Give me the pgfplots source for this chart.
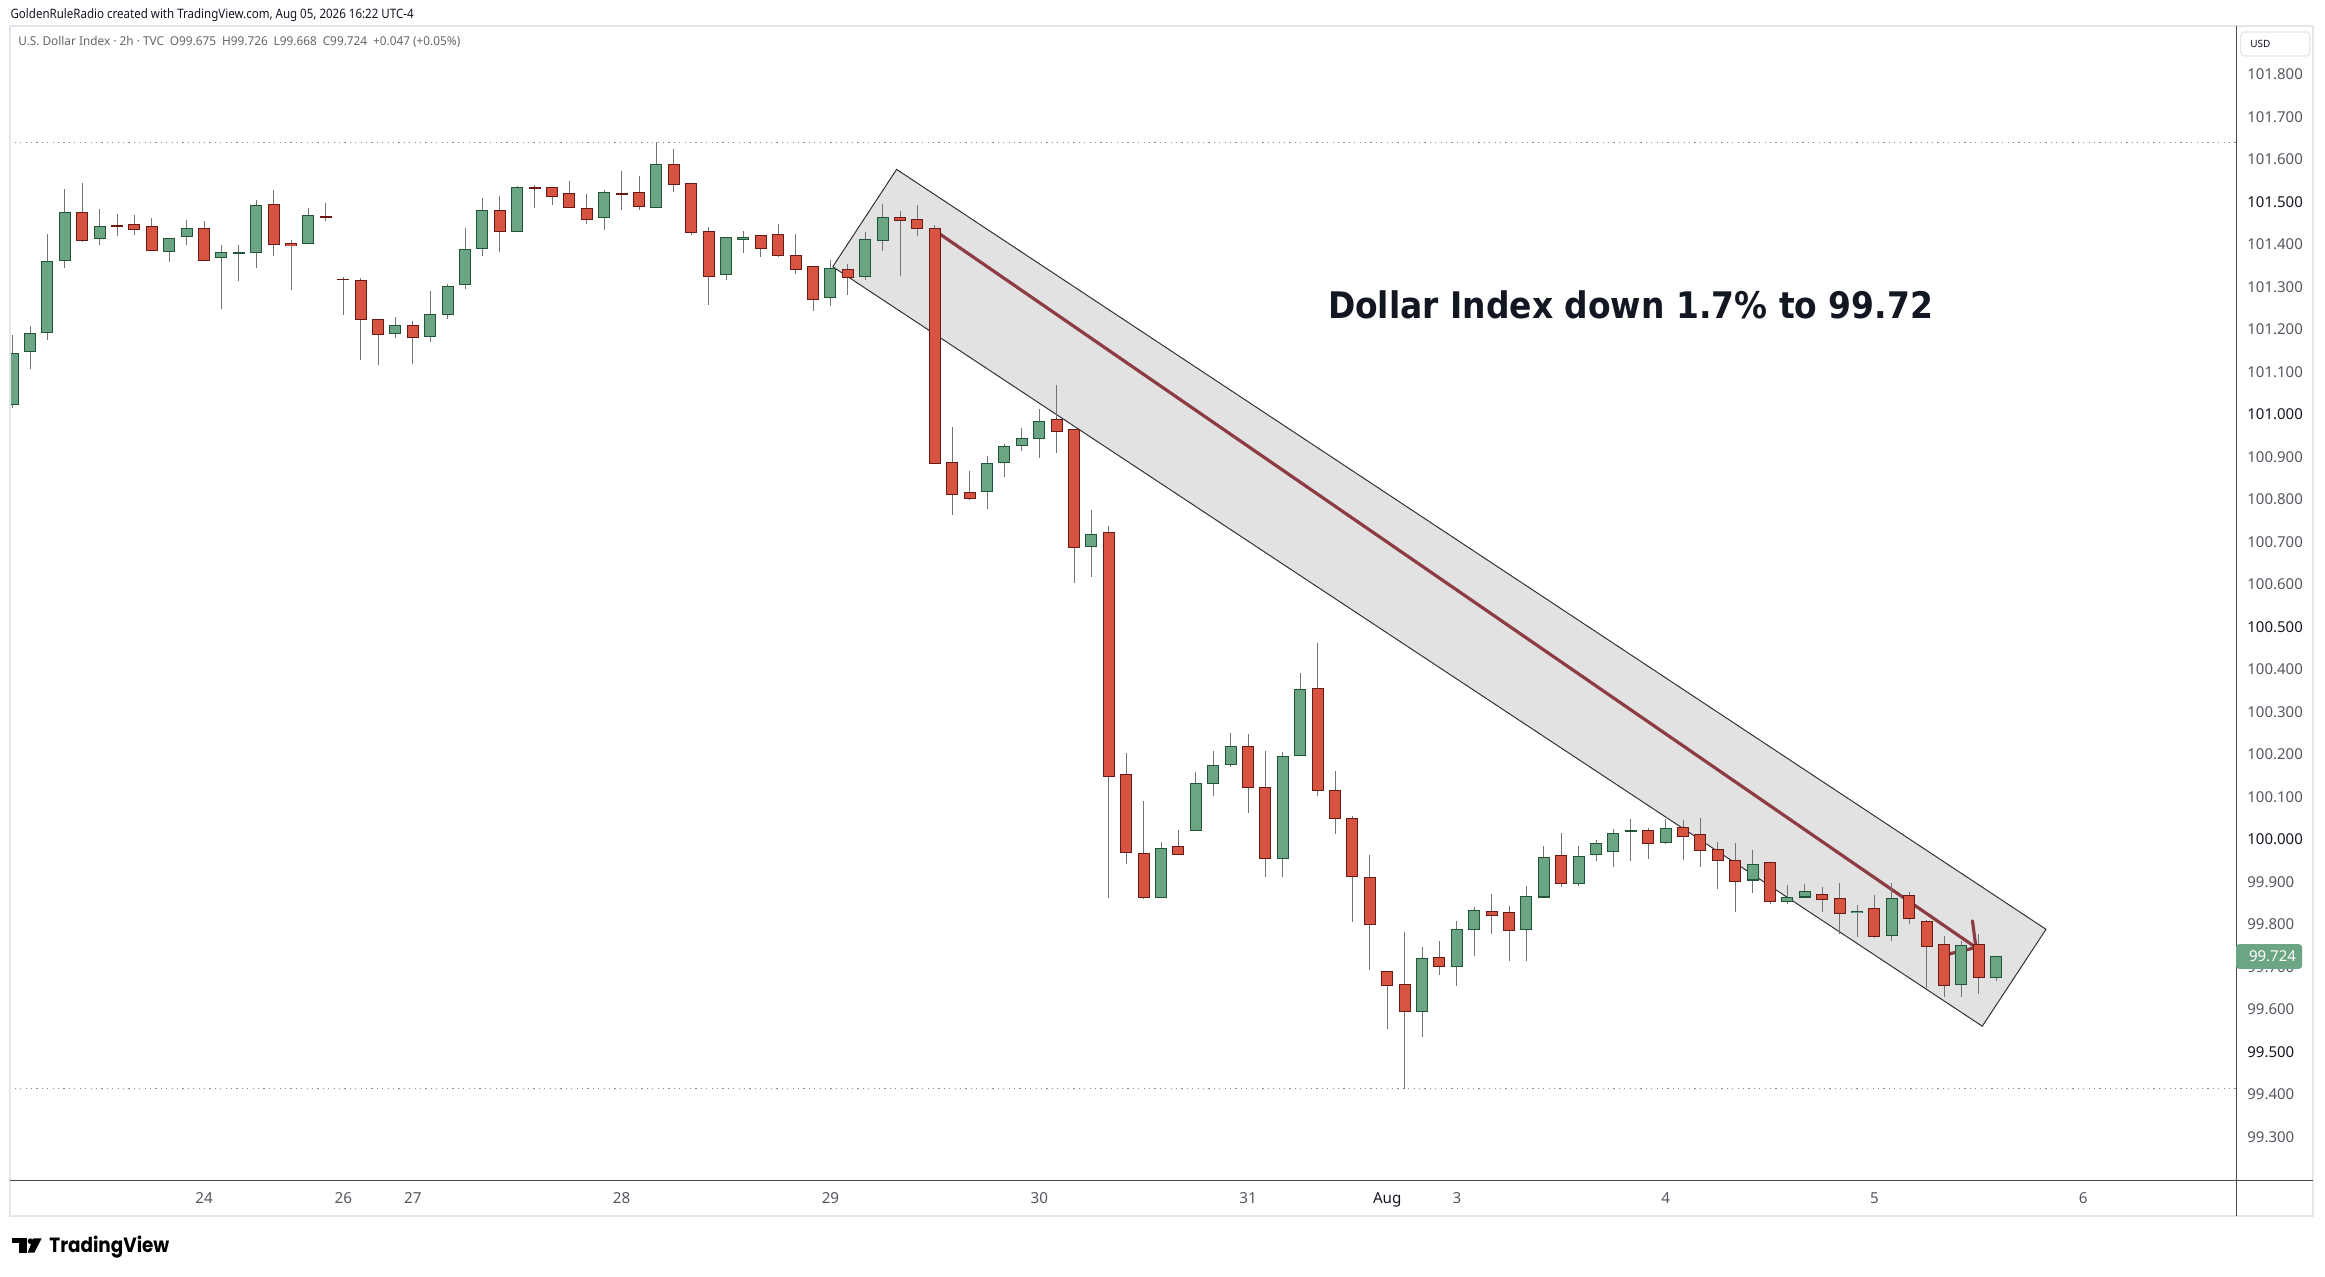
\documentclass[border=0pt]{standalone}
\usepackage{pgfplots}
\pgfplotsset{compat=1.18}
\usepackage{pgfplotstable}
\usepackage{graphicx}
\usepackage{fontspec}
\usetikzlibrary{arrows.meta}
\setmainfont{Noto Sans}
\newfontfamily\dejavu{DejaVu Sans}
\newfontfamily\popfont{Poppins}

\definecolor{upfill}{HTML}{6BA583}
\definecolor{upline}{HTML}{225437}
\definecolor{dnfill}{HTML}{D75442}
\definecolor{dnline}{HTML}{6B1914}
\definecolor{wick}{HTML}{737375}
\definecolor{chan}{HTML}{E2E2E2}
\definecolor{arrowc}{RGB}{140,60,66}
\definecolor{panel}{HTML}{E4E6EC}
\definecolor{axc}{HTML}{4A4A4A}
\definecolor{lbl}{HTML}{555860}
\definecolor{dark}{HTML}{131722}

% green (up) candles: bar index, open, high, low, close
\pgfplotstableread{
i o h l c
0 101.025 101.186 101.015 101.143
1 101.148 101.207 101.107 101.190
2 101.192 101.426 101.177 101.360
3 101.362 101.532 101.345 101.475
5 101.414 101.483 101.399 101.442
9 101.383 101.414 101.359 101.414
10 101.418 101.459 101.399 101.437
12 101.369 101.398 101.248 101.381
13 101.380 101.398 101.314 101.381
14 101.381 101.505 101.345 101.491
17 101.402 101.487 101.402 101.468
22 101.190 101.229 101.180 101.209
24 101.183 101.290 101.170 101.235
25 101.235 101.308 101.225 101.301
26 101.305 101.438 101.295 101.388
27 101.390 101.509 101.373 101.480
29 101.432 101.538 101.430 101.534
34 101.463 101.529 101.434 101.522
37 101.489 101.640 101.487 101.590
41 101.329 101.418 101.316 101.416
42 101.413 101.431 101.380 101.418
47 101.275 101.363 101.255 101.343
49 101.324 101.429 101.316 101.411
50 101.409 101.494 101.385 101.463
56 100.818 100.901 100.778 100.884
57 100.887 100.930 100.853 100.924
58 100.927 100.967 100.914 100.945
59 100.943 101.014 100.898 100.985
62 100.689 100.774 100.618 100.717
66 99.863 99.994 99.863 99.979
68 100.021 100.158 100.021 100.132
69 100.132 100.208 100.103 100.174
70 100.176 100.252 100.172 100.219
73 99.955 100.205 99.911 100.195
74 100.198 100.391 100.198 100.353
81 99.595 99.747 99.536 99.720
83 99.701 99.810 99.655 99.788
84 99.788 99.842 99.726 99.832
87 99.788 99.891 99.714 99.865
88 99.865 99.983 99.865 99.957
90 99.896 99.985 99.891 99.959
91 99.964 99.997 99.948 99.990
92 99.971 100.025 99.934 100.014
93 100.020 100.049 99.950 100.021
95 99.992 100.047 99.990 100.025
100 99.905 99.974 99.875 99.941
102 99.854 99.894 99.849 99.863
103 99.865 99.896 99.865 99.877
106 99.828 99.847 99.771 99.832
108 99.774 99.896 99.760 99.861
112 99.658 99.762 99.630 99.750
114 99.675 99.726 99.668 99.724
}\up

% red (down) candles
\pgfplotstableread{
i o h l c
4 101.475 101.544 101.406 101.409
6 101.445 101.471 101.420 101.443
7 101.447 101.469 101.422 101.435
8 101.442 101.461 101.384 101.385
11 101.440 101.454 101.363 101.364
15 101.494 101.529 101.373 101.400
16 101.402 101.411 101.293 101.397
18 101.466 101.498 101.456 101.465
19 101.318 101.324 101.235 101.317
20 101.315 101.323 101.130 101.223
21 101.225 101.225 101.116 101.188
23 101.209 101.221 101.119 101.181
28 101.480 101.513 101.382 101.430
30 101.533 101.541 101.486 101.531
31 101.534 101.534 101.493 101.512
32 101.520 101.550 101.487 101.487
33 101.484 101.518 101.448 101.458
35 101.520 101.572 101.481 101.519
36 101.522 101.560 101.481 101.489
38 101.590 101.624 101.523 101.541
39 101.543 101.543 101.422 101.428
40 101.430 101.442 101.258 101.324
43 101.421 101.421 101.370 101.392
44 101.423 101.447 101.370 101.374
45 101.376 101.424 101.330 101.343
46 101.348 101.348 101.243 101.270
48 101.343 101.356 101.283 101.324
51 101.463 101.480 101.326 101.456
52 101.458 101.494 101.420 101.437
53 101.437 101.447 100.884 100.884
54 100.887 100.972 100.764 100.811
55 100.816 100.866 100.798 100.802
60 100.988 101.070 100.909 100.960
61 100.964 100.964 100.603 100.687
63 100.722 100.739 99.863 100.149
64 100.153 100.205 99.943 99.969
65 99.967 100.090 99.859 99.863
67 99.983 100.022 99.965 99.965
71 100.219 100.248 100.063 100.122
72 100.122 100.208 99.911 99.955
75 100.355 100.462 100.103 100.115
76 100.115 100.161 100.013 100.049
77 100.049 100.056 99.806 99.913
78 99.911 99.965 99.693 99.800
79 99.689 99.689 99.554 99.656
80 99.659 99.782 99.414 99.595
82 99.722 99.761 99.681 99.701
85 99.832 99.871 99.777 99.823
86 99.828 99.844 99.714 99.785
89 99.962 100.016 99.889 99.896
94 100.021 100.028 99.955 99.990
96 100.030 100.044 99.950 100.009
97 100.011 100.051 99.934 99.974
98 99.976 99.995 99.884 99.952
99 99.952 99.992 99.830 99.901
101 99.945 99.945 99.849 99.854
104 99.870 99.889 99.830 99.858
105 99.861 99.898 99.778 99.825
107 99.837 99.870 99.769 99.771
109 99.868 99.877 99.802 99.814
110 99.809 99.809 99.651 99.748
111 99.752 99.774 99.630 99.656
113 99.752 99.776 99.635 99.675
}\down

\pgfplotsset{
  wickstyle/.style={draw=none, mark=none, forget plot,
    error bars/.cd, y dir=both, y explicit, error mark=none,
    error bar style={draw=wick, line width=0.5pt}},
  bodystyle/.style 2 args={draw=none, mark=none, forget plot,
    error bars/.cd, y dir=both, y explicit, error mark=none,
    error bar style={draw=#1, line width=#2}},
}

\begin{document}
\begin{tikzpicture}
\useasboundingbox (0,0) rectangle (1162.5pt,638pt);
\fill[white] (0,0) rectangle (1162.5pt,638pt);
\begin{axis}[
  at={(4.75pt,48pt)}, anchor=south west, scale only axis,
  width=1113.25pt, height=576.5pt,
  xmin=-0.184, xmax=127.78, ymin=99.1981, ymax=101.9111,
  axis line style={draw=none},
  tick style={draw=none}, major tick length=0pt,
  xtick={11,19,23,35,47,59,71,79,83,95,107,119},
  xticklabels={24,26,27,28,29,30,31,{\bfseries\color{dark}Aug},3,4,5,6},
  xticklabel style={font=\fontsize{7.6}{8}\selectfont, text=lbl, anchor=base, inner sep=0pt, yshift=-11.65pt},
  ytick={99.3,99.4,99.5,99.6,99.7,99.8,99.9,100,100.1,100.2,100.3,100.4,100.5,100.6,100.7,100.8,100.9,101,101.1,101.2,101.3,101.4,101.5,101.6,101.7,101.8},
  yticklabels={99.300,99.400,{\bfseries\color{dark}99.500},99.600,99.700,99.800,99.900,{\bfseries\color{dark}100.000},100.100,100.200,100.300,100.400,{\bfseries\color{dark}100.500},100.600,100.700,100.800,100.900,{\bfseries\color{dark}101.000},101.100,101.200,101.300,101.400,{\bfseries\color{dark}101.500},101.600,101.700,101.800},
  yticklabel pos=right,
  yticklabel style={font=\fontsize{7.5}{8}\selectfont, text=lbl, anchor=west, inner sep=0pt, xshift=5.5pt},
  clip=true,
]
% session high / low dotted lines
\addplot[forget plot, line width=0.5pt, color=black!45, dash pattern=on 0.6pt off 2.1pt] coordinates {(-0.184,101.640) (127.78,101.640)};
\addplot[forget plot, line width=0.5pt, color=black!45, dash pattern=on 0.6pt off 2.1pt] coordinates {(-0.184,99.414) (127.78,99.414)};
% channel
\addplot[forget plot, fill=chan, draw=black!80, line width=0.5pt] coordinates {(47.13,101.347) (50.80,101.576) (116.86,99.788) (113.20,99.560) (47.13,101.347)};
% trend arrow
\addplot[forget plot, arrowc, line width=1.6pt, line cap=round, -{Straight Barb[length=9pt,width=20pt,round]}] coordinates {(53.0,101.432) (112.91,99.743)};
% wicks
\addplot[wickstyle] table[x=i, y expr=(\thisrow{h}+\thisrow{l})/2, y error expr=(\thisrow{h}-\thisrow{l})/2] {\up};
\addplot[wickstyle] table[x=i, y expr=(\thisrow{h}+\thisrow{l})/2, y error expr=(\thisrow{h}-\thisrow{l})/2] {\down};
% bodies
\addplot[bodystyle={upline}{6pt}] table[x=i, y expr=(\thisrow{o}+\thisrow{c})/2, y error expr={abs(\thisrow{o}-\thisrow{c})/2+0.0012}] {\up};
\addplot[bodystyle={upfill}{5pt}] table[x=i, y expr=(\thisrow{o}+\thisrow{c})/2, y error expr={max(abs(\thisrow{o}-\thisrow{c})/2-0.0012,0)}] {\up};
\addplot[bodystyle={dnline}{6pt}] table[x=i, y expr=(\thisrow{o}+\thisrow{c})/2, y error expr={abs(\thisrow{o}-\thisrow{c})/2+0.0012}] {\down};
\addplot[bodystyle={dnfill}{5pt}] table[x=i, y expr=(\thisrow{o}+\thisrow{c})/2, y error expr={max(abs(\thisrow{o}-\thisrow{c})/2-0.0012,0)}] {\down};
\end{axis}

% axis lines and panel frame
\draw[panel, line width=1pt] (4.75pt,30.25pt) rectangle (1156.25pt,625pt);
\draw[axc, line width=0.5pt] (4.75pt,48pt) -- (1156.25pt,48pt);
\draw[axc, line width=0.5pt] (1118pt,30.25pt) -- (1118pt,625pt);

% header and legend
\node[anchor=west, inner sep=0pt, text=dark] at (5.1pt,630.6pt)
  {\resizebox{201.5pt}{\height}{\fontsize{6.5}{7}\selectfont GoldenRuleRadio created with TradingView.com, Aug 05, 2026 16:22 UTC-4}};
\node[anchor=west, inner sep=0pt, text=black!60] at (8.95pt,617.25pt)
  {\resizebox{221pt}{\height}{\fontsize{6.1}{7}\selectfont U.S. Dollar Index · 2h · TVC\enspace O99.675\enspace H99.726\enspace L99.668\enspace C99.724\enspace +0.047 (+0.05\%)}};

% annotation
\node[inner sep=0pt, text=dark] at (815.25pt,485.5pt)
  {\resizebox{302.5pt}{\height}{\dejavu\bfseries\fontsize{18.3}{20}\selectfont Dollar Index down 1.7\% to 99.72}};

% USD box
\draw[panel, line width=0.6pt, rounded corners=2pt, fill=white] (1120.3pt,610pt) rectangle (1155pt,622pt);
\node[anchor=west, inner sep=0pt, text=dark] at (1125pt,616.2pt) {\fontsize{5}{6}\selectfont USD};

% last price tag
\fill[upfill, rounded corners=1.5pt] (1118pt,153.6pt) rectangle (1151pt,165.9pt);
\node[anchor=west, inner sep=0pt, text=white] at (1124.3pt,159.75pt) {\fontsize{7.5}{8}\selectfont\bfseries 99.724};

% TradingView logo
\fill[black] (5.83pt,16.33pt) rectangle (13.33pt,18.83pt);
\fill[black] (9.67pt,11.67pt) rectangle (13.33pt,18.83pt);
\fill[black] (15.25pt,17.4pt) circle (1.42pt);
\fill[black] (16.67pt,18.83pt) -- (20.83pt,18.83pt) -- (17.17pt,11.67pt) -- (13.83pt,11.67pt) -- cycle;
\node[anchor=base west, inner sep=0pt] at (24.5pt,11.65pt)
  {\resizebox{60pt}{\height}{\popfont\bfseries\fontsize{10.3}{12}\selectfont TradingView}};
\end{tikzpicture}
\end{document}
